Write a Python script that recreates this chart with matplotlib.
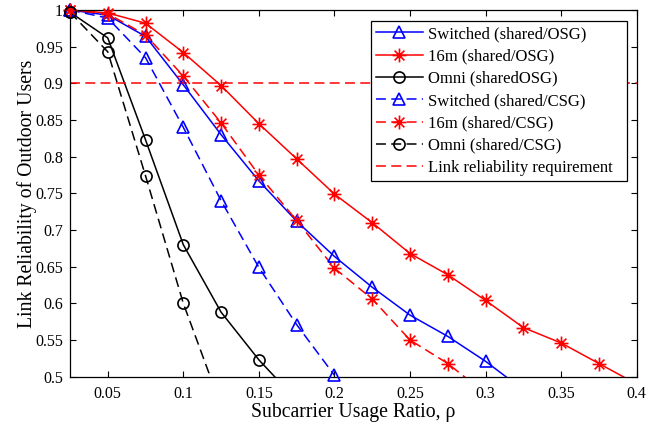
import numpy as np
import matplotlib
matplotlib.use("Agg")
import matplotlib.pyplot as plt
from matplotlib.path import Path
from matplotlib.lines import Line2D

plt.rcParams['font.family'] = ['Liberation Serif', 'DejaVu Serif']
plt.rcParams['mathtext.fontset'] = 'stix'

# ---- data ----
x_all = [0.025, 0.05, 0.075, 0.1, 0.125, 0.15, 0.175, 0.2, 0.225, 0.25,
         0.275, 0.3, 0.325, 0.35, 0.375, 0.4]

switched_osg = [1.0, 0.993, 0.964, 0.898, 0.830, 0.767, 0.712, 0.664, 0.622,
                0.584, 0.555, 0.521, 0.482]
m16_osg = [1.0, 0.996, 0.982, 0.942, 0.897, 0.845, 0.797, 0.749, 0.710, 0.668,
           0.639, 0.604, 0.567, 0.546, 0.518, 0.490]
omni_osg = [0.997, 0.962, 0.823, 0.680, 0.588, 0.523, 0.468]
switched_csg = [1.0, 0.989, 0.935, 0.840, 0.740, 0.649, 0.571, 0.502]
m16_csg = [1.0, 0.995, 0.966, 0.910, 0.846, 0.775, 0.713, 0.648, 0.606, 0.550,
           0.518, 0.477]
omni_csg = [0.997, 0.943, 0.774, 0.600, 0.460]
requirement = 0.9

labels = ["Switched (shared/OSG)", "16m (shared/OSG)", "Omni (sharedOSG)",
          "Switched (shared/CSG)", "16m (shared/CSG)", "Omni (shared/CSG)",
          "Link reliability requirement"]

xticks = [0.05, 0.1, 0.15, 0.2, 0.25, 0.3, 0.35, 0.4]
xticklabels = ["0.05", "0.1", "0.15", "0.2", "0.25", "0.3", "0.35", "0.4"]
yticks = [0.5, 0.55, 0.6, 0.65, 0.7, 0.75, 0.8, 0.85, 0.9, 0.95, 1.0]
yticklabels = ["0.5", "0.55", "0.6", "0.65", "0.7", "0.75", "0.8", "0.85", "0.9", "0.95", "1"]

# asterisk marker (MATLAB style)
ast_verts = [(0, -1), (0, 1), (-1, 0), (1, 0),
             (-0.7071, -0.7071), (0.7071, 0.7071), (-0.7071, 0.7071), (0.7071, -0.7071)]
ast_codes = [Path.MOVETO, Path.LINETO] * 4
asterisk = Path(ast_verts, ast_codes)

fig = plt.figure(figsize=(6.6, 4.26), dpi=100)
ax = fig.add_axes([0.106, 0.1157, 0.8587, 0.8608])

blue = (0, 0, 1)
red = (1, 0, 0)
black = (0, 0, 0)
lw = 1.1
dash = (6.5, 3.5)

series = [
    (switched_osg, blue, '-', '^', 9),
    (m16_osg, red, '-', asterisk, 10),
    (omni_osg, black, '-', 'o', 8),
    (switched_csg, blue, '--', '^', 9),
    (m16_csg, red, '--', asterisk, 10),
    (omni_csg, black, '--', 'o', 8),
]

handles = []
for (vals, col, ls, mk, ms) in series:
    xs = np.array(x_all[:len(vals)])
    ys = np.array(vals)
    kw = dict(color=col, lw=lw)
    if ls == '--':
        ax.plot(xs, ys, linestyle='--', dashes=dash, **kw)
    else:
        ax.plot(xs, ys, linestyle='-', **kw)
    keep = ys >= 0.5
    ax.plot(xs[keep], ys[keep], linestyle='none', marker=mk, markersize=ms,
            markerfacecolor='none', markeredgecolor=col, markeredgewidth=1.2,
            clip_on=False, zorder=3)
    h = Line2D([], [], color=col, lw=lw, linestyle=ls, marker=mk, markersize=ms,
               markerfacecolor='none', markeredgecolor=col, markeredgewidth=1.2)
    if ls == '--':
        h.set_dashes(dash)
    handles.append(h)

ax.axhline(requirement, color=red, lw=lw, linestyle='--', dashes=dash)
hreq = Line2D([], [], color=red, lw=lw, linestyle='--')
hreq.set_dashes(dash)
handles.append(hreq)

ax.set_xlim(0.025, 0.4)
ax.set_ylim(0.5, 1.0)
ax.set_xticks(xticks)
ax.set_xticklabels(xticklabels)
ax.set_yticks(yticks)
ax.set_yticklabels(yticklabels)
ax.tick_params(direction='in', length=4, width=0.8, top=True, right=True,
               labelsize=11.5)
ax.tick_params(axis='x', pad=6.5)
ax.tick_params(axis='y', pad=5)
for s in ax.spines.values():
    s.set_linewidth(0.9)

ax.set_xlabel("Subcarrier Usage Ratio, ρ", fontsize=14.2, labelpad=1)
ax.set_ylabel("Link Reliability of Outdoor Users", fontsize=14.2, labelpad=-1.5)

leg = ax.legend(handles, labels, loc='upper left', mode='expand',
                bbox_to_anchor=(0.531, 0.5, 0.452, 0.470),
                fontsize=12, frameon=True, fancybox=False, edgecolor='black',
                framealpha=1, handlelength=2.8, handletextpad=0.3,
                labelspacing=0.38, borderpad=0.3, borderaxespad=0, numpoints=1)
leg.get_frame().set_linewidth(0.9)

fig.savefig("out.png", dpi=100)
